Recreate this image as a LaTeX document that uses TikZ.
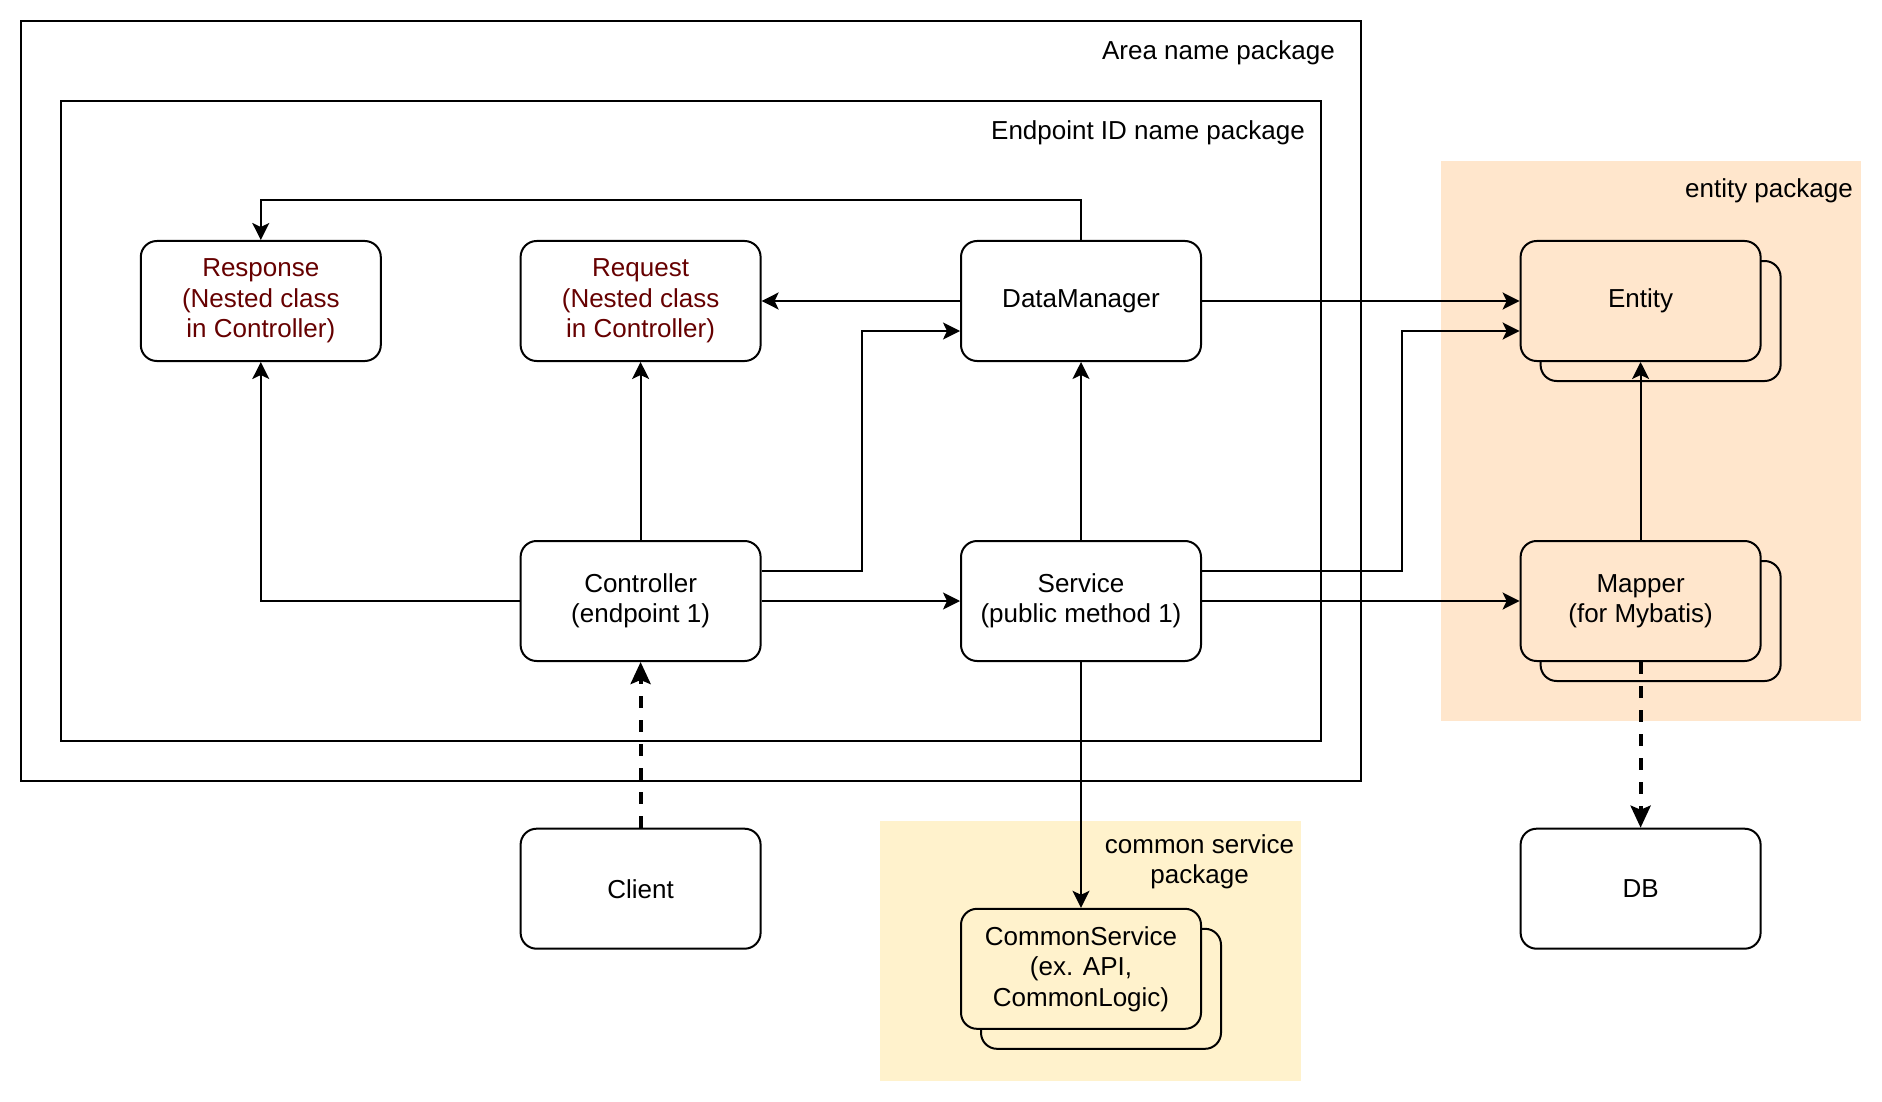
\documentclass[tikz,border=0pt]{standalone}
\usepackage{fontspec}
\setmainfont{Liberation Sans}
\usetikzlibrary{arrows.meta}
\definecolor{respc}{HTML}{660000}
\definecolor{entbg}{HTML}{FFE6CC}
\definecolor{cmbg}{HTML}{FFF2CC}
\begin{document}
\begin{tikzpicture}[x=1pt,y=-1pt,
  txt/.style={font=\fontsize{26}{30.5}\selectfont},
  box/.style={draw, line width=2pt, rounded corners=16pt, minimum width=240pt, minimum height=120pt, align=center, fill=white, inner sep=0pt, txt},
  arr/.style={line width=2pt, -{Stealth[length=17pt,width=17pt,inset=4pt]}},
  darr/.style={line width=4pt, dash pattern=on 12pt off 12pt, -{Stealth[length=22pt,width=20pt,inset=4pt]}},
  pkg/.style={draw, line width=2pt},
  lbl/.style={txt, inner sep=0pt}
]
\useasboundingbox (0,0) rectangle (1882,1102);
\fill[white] (0,0) rectangle (1882,1102);
% package areas
\fill[entbg] (1441,161) rectangle (1861,720.7);
\fill[cmbg] (880,821) rectangle (1301,1080.5);
\draw[pkg] (20.5,21) rectangle (1361,781);
\draw[pkg] (60.6,101) rectangle (1321,741);
% labels
\node[lbl, anchor=base east] (lblArea) at (1335,60) {Area name package};
\node[lbl, anchor=base east] (lblEp) at (1305,140) {Endpoint ID name package};
\node[lbl, anchor=base east] (lblEnt) at (1853,198) {entity package};
\node[lbl, anchor=north, align=center] (lblCmn) at (1199.6,834) {common service\\package};
% boxes
\node[box, text=respc] (resp) at (260.8,301) {Response\\(Nested class\\in Controller)};
\node[box, text=respc] (req) at (640.6,301) {Request\\(Nested class\\in Controller)};
\node[box] (dm) at (1081,301) {DataManager};
\node[box, fill=entbg] (entS) at (1660.6,321) {};
\node[box, fill=entbg] (ent) at (1640.6,301) {Entity};
\node[box] (ctrl) at (640.6,601) {Controller\\(endpoint 1)};
\node[box] (svc) at (1081,601) {Service\\(public method 1)};
\node[box, fill=entbg] (mapS) at (1660.6,621) {};
\node[box, fill=entbg] (map) at (1640.6,601) {Mapper\\(for Mybatis)};
\node[box] (cli) at (640.6,888.7) {Client};
\node[box] (db) at (1640.6,888.7) {DB};
\node[box, fill=cmbg] (cmS) at (1101,988.8) {};
\node[box, fill=cmbg] (cm) at (1081,968.8) {CommonService\\(ex. API,\\CommonLogic)};
% connectors
\draw[arr] (dm.north) -- ++(0,-40.4) -| (resp.north);
\draw[arr] (dm.west) -- (req.east);
\draw[arr] (dm.east) -- (ent.west);
\draw[arr] ([yshift=30pt]ctrl.east) -- ++(100.4,0) |- ([yshift=-30pt]dm.west);
\draw[arr] (ctrl.north) -- (req.south);
\draw[arr] (ctrl.west) -| (resp.south);
\draw[arr] (ctrl.east) -- (svc.west);
\draw[arr] (svc.north) -- (dm.south);
\draw[arr] ([yshift=30pt]svc.east) -- ++(199.6,0) |- ([yshift=-30pt]ent.west);
\draw[arr] (svc.east) -- (map.west);
\draw[arr] (map.north) -- (ent.south);
\draw[arr] (svc.south) -- (cm.north);
\draw[darr] (cli.north) -- (ctrl.south);
\draw[darr] (map.south) -- (db.north);
\end{tikzpicture}
\end{document}
